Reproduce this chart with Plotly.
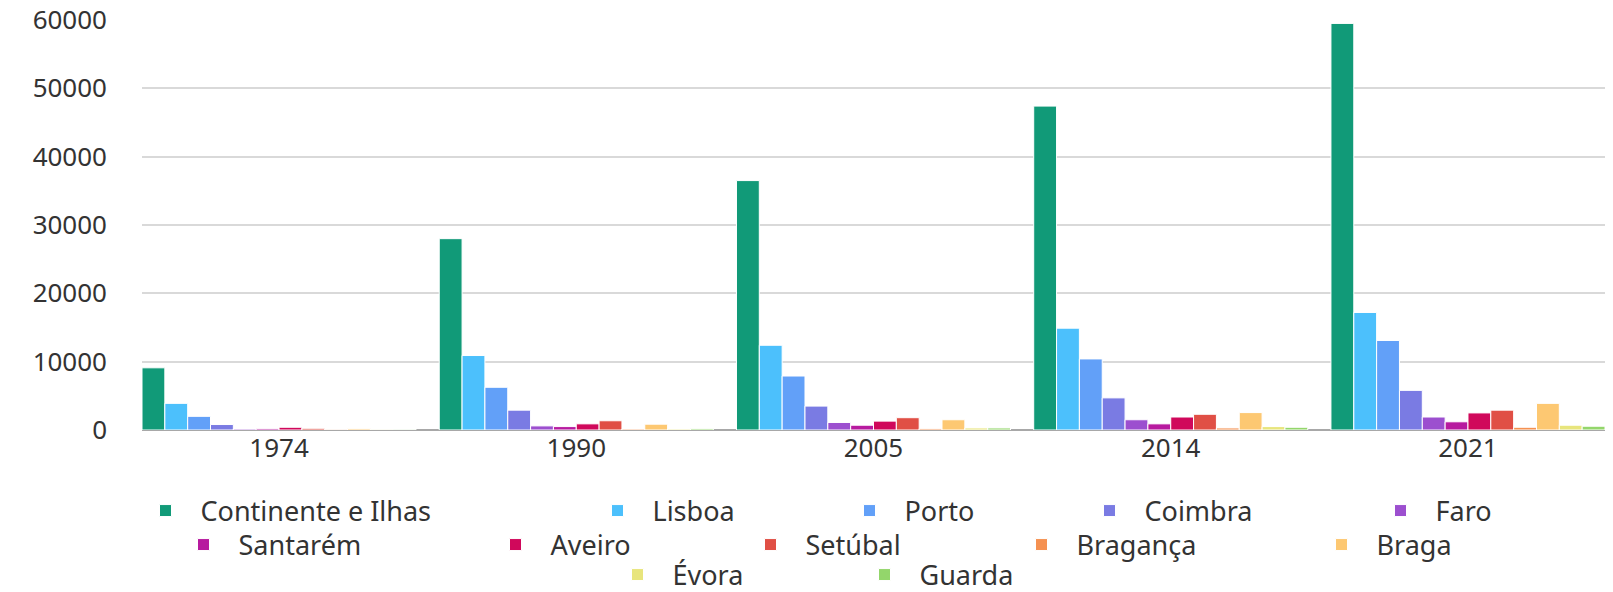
import plotly.graph_objects as go

# Years shown on the category axis
years = ["1974", "1990", "2005", "2014", "2021"]

# Series values per region, one value per year
continente_e_ilhas = [9100, 28000, 36500, 47400, 59500]
lisboa = [3900, 10900, 12400, 14900, 17200]
porto = [2000, 6250, 7900, 10400, 13100]
coimbra = [800, 2900, 3500, 4700, 5800]
faro = [150, 600, 1100, 1500, 1900]
santarem = [200, 500, 700, 900, 1200]
aveiro = [400, 900, 1300, 1900, 2500]
setubal = [250, 1350, 1800, 2300, 2900]
braganca = [100, 150, 200, 300, 400]
braga = [200, 850, 1500, 2550, 3900]
evora = [100, 150, 300, 500, 700]
guarda = [100, 200, 300, 400, 550]

names = ["Continente e Ilhas", "Lisboa", "Porto", "Coimbra", "Faro",
         "Santarém", "Aveiro", "Setúbal", "Bragança", "Braga",
         "Évora", "Guarda"]
series = [continente_e_ilhas, lisboa, porto, coimbra, faro,
          santarem, aveiro, setubal, braganca, braga, evora, guarda]
colors = ["#119A78", "#4CC0FC", "#62A0F8", "#7A7BE3", "#9C4FCF",
          "#B71A9F", "#D0085B", "#E04F45", "#F59151", "#FDC872",
          "#E8E57C", "#93D66B"]

# Legend rows: which legend each series sits in and the entry width used
legend_ids = ["legend"] * 5 + ["legend2"] * 5 + ["legend3"] * 2
entry_widths = [377, 177, 165, 216, 90,
                237, 180, 196, 225, 110,
                172, 140]

fig = go.Figure()
for name, vals, col, lg, ew in zip(names, series, colors, legend_ids, entry_widths):
    fig.add_trace(go.Bar(
        x=years, y=vals, name=name,
        marker=dict(color=col, line=dict(color="white", width=1)),
        legend=lg, legendwidth=ew,
    ))

font_family = "Noto Sans"
text_color = "#333333"
legend_font = dict(family=font_family, size=27, color=text_color)


def legend_row(x_px, y_px):
    return dict(orientation="h", xref="container", yref="container",
                x=x_px / 1613, y=1 - y_px / 592, xanchor="left", yanchor="middle",
                font=legend_font, bgcolor="rgba(0,0,0,0)", traceorder="normal",
                itemwidth=60)


gap = 0.078
fig.update_layout(
    width=1613, height=592,
    margin=dict(l=142, r=8, t=20, b=162, autoexpand=False),
    paper_bgcolor="white", plot_bgcolor="white",
    barmode="group", bargap=gap, bargroupgap=0,
    font=dict(family=font_family, size=26, color=text_color),
    xaxis=dict(type="category", range=[-0.5 + gap / 2, 4.5 - gap / 2],
               showgrid=False, showline=False, ticks="",
               tickfont=dict(size=26, color=text_color)),
    yaxis=dict(range=[0, 60000], dtick=10000, tickformat="d",
               showgrid=True, gridcolor="#d9d9d9", gridwidth=1.5,
               zeroline=True, zerolinecolor="#a8a8a8", zerolinewidth=1.5,
               showline=False, ticks="", ticklabelstandoff=34,
               tickfont=dict(size=26, color=text_color)),
    legend=legend_row(130.5, 511),
    legend2=legend_row(168.5, 545),
    legend3=legend_row(602.5, 575),
)

fig.write_html("out.html")
